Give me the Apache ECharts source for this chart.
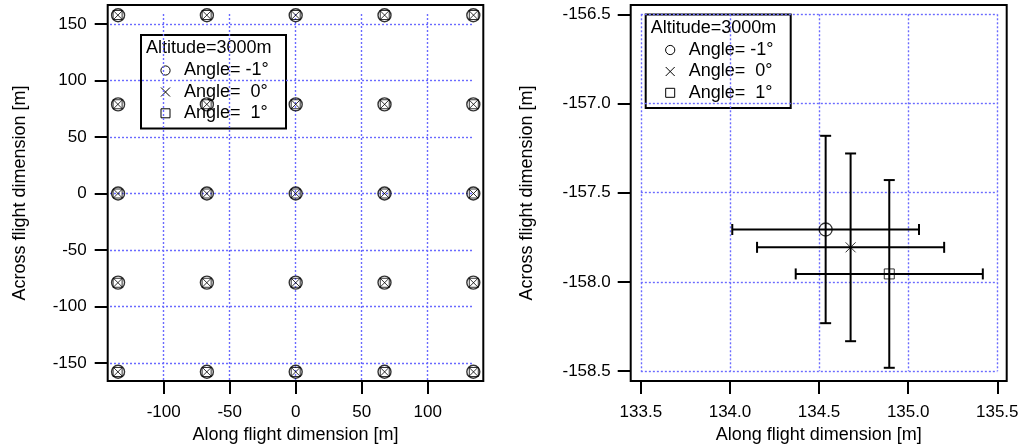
<!DOCTYPE html>
<html>
<head>
<meta charset="utf-8">
<script src="https://cdn.jsdelivr.net/npm/echarts@6/dist/echarts.min.js"></script>
<style>
  html, body { margin: 0; padding: 0; background: #fff; }
  #chart { width: 1034px; height: 448px; }
</style>
</head>
<body>
<div id="chart"></div>
<script>
// ---- data ----------------------------------------------------------------
const altitudeLabel = 'Altitude=3000m';
const angleNames = ['Angle= -1°', 'Angle=  0°', 'Angle=  1°'];

// footprint grid positions per pointing angle [m]
const alongAngleM1 = [-134.54, -67.27, 0, 67.27, 134.54];
const acrossAngleM1 = [-157.71, -78.85, 0, 78.85, 157.71];
const alongAngle0 = [-134.68, -67.34, 0, 67.34, 134.68];
const acrossAngle0 = [-157.81, -78.90, 0, 78.90, 157.81];
const alongAngleP1 = [-134.89, -67.45, 0, 67.45, 134.89];
const acrossAngleP1 = [-157.95, -78.98, 0, 78.98, 157.95];

// corner footprint in detail, with uncertainties [m]
const detailAlong = [134.537, 134.677, 134.894];
const detailAcross = [-157.706, -157.806, -157.955];
const detailAlongErr = [0.524, 0.525, 0.525];
const detailAcrossErr = [0.525, 0.526, 0.526];

// tick labels
const overviewAlongTicks = [-100, -50, 0, 50, 100];
const overviewAcrossTicks = [-150, -100, -50, 0, 50, 100, 150];
const detailAlongTicks = [133.5, 134.0, 134.5, 135.0, 135.5];
const detailAcrossTicks = [-158.5, -158.0, -157.5, -157.0, -156.5];

// ---- layout --------------------------------------------------------------
const FONT = '"Liberation Sans", Arial, Helvetica, sans-serif';
const GRID_BLUE = '#6a6aff';
const DOT = [2, 2];

const leftBox = { left: 107.7, top: 5, width: 375.6, height: 376, xr: [-142.4, 142.1], yr: [-165.9, 166.8] };
const rightBox = { left: 630.7, top: 5, width: 376, height: 376, xr: [133.443, 135.553], yr: [-158.555, -156.448] };

function px(box, v) { return box.left + (v - box.xr[0]) / (box.xr[1] - box.xr[0]) * box.width; }
function py(box, v) { return box.top + (box.yr[1] - v) / (box.yr[1] - box.yr[0]) * box.height; }

// dotted guide-line areas
const leftH = { left: 110, width: 363, top: py(leftBox, 150), height: py(leftBox, -150) - py(leftBox, 150) };
const leftV = { left: px(leftBox, -100), width: px(leftBox, 100) - px(leftBox, -100), top: 14, height: 367 };
const rightG = {
  left: px(rightBox, 133.5), width: px(rightBox, 135.5) - px(rightBox, 133.5),
  top: py(rightBox, -156.5), height: py(rightBox, -158.5) - py(rightBox, -156.5)
};

function zip(xs, ys) {
  const out = [];
  for (const y of ys) for (const x of xs) out.push([x, y]);
  return out;
}

const mainGrid = (b) => ({
  left: b.left, top: b.top, width: b.width, height: b.height,
  show: true, borderColor: '#000', borderWidth: 2, backgroundColor: 'transparent',
  containLabel: false, outerBoundsMode: 'none'
});
const plainGrid = (b) => ({
  left: b.left, top: b.top, width: b.width, height: b.height,
  show: false, containLabel: false, outerBoundsMode: 'none'
});

const hiddenAxis = (gi) => ({
  type: 'value', gridIndex: gi, min: 0, max: 1, show: false,
  axisLine: { show: false, onZero: false }, axisTick: { show: false }, axisLabel: { show: false },
  splitLine: { show: false }
});
const splitAxis = (gi, min, max, interval) => ({
  type: 'value', gridIndex: gi, min, max, interval,
  axisLine: { show: false, onZero: false }, axisTick: { show: false }, axisLabel: { show: false },
  splitLine: { show: true, showMinLine: true, showMaxLine: true, lineStyle: { color: GRID_BLUE, width: 1.4, type: DOT } }
});
const mainAxis = (gi, range, ticks, opts) => ({
  type: 'value', gridIndex: gi, min: range[0], max: range[1],
  axisLine: { show: false, onZero: false },
  axisTick: { show: true, inside: false, length: 13, customValues: ticks, lineStyle: { color: '#000', width: 2 } },
  axisLabel: {
    show: true, customValues: ticks, color: '#000', fontSize: 17, fontFamily: FONT,
    margin: opts.margin, formatter: opts.formatter
  },
  splitLine: { show: false },
  name: opts.name, nameLocation: 'middle', nameGap: opts.nameGap,
  nameTextStyle: { color: '#000', fontSize: 18, fontFamily: FONT }
});

const ALONG = 'Along flight dimension [m]';
const ACROSS = 'Across flight dimension [m]';

const symbolCircle = 'circle';
const symbolCross = 'path://M0 0L10 10M10 0L0 10';
const symbolSquare = 'rect';

function scatter(name, data, xi, symbol, size, bw) {
  return {
    type: 'scatter', name, data, xAxisIndex: xi, yAxisIndex: xi,
    symbol, symbolSize: size,
    itemStyle: { color: 'none', borderColor: '#000', borderWidth: bw },
    silent: true, z: 4, emphasis: { disabled: true }
  };
}

// error bars for the detail panel
const errData = detailAlong.map((x, i) => [x, detailAcross[i], detailAlongErr[i], detailAcrossErr[i]]);
const errorBars = {
  type: 'custom', xAxisIndex: 3, yAxisIndex: 3, data: errData, silent: true, z: 3,
  renderItem(params, api) {
    const x = api.value(0), y = api.value(1), ex = api.value(2), ey = api.value(3);
    const l = api.coord([x - ex, y]), r = api.coord([x + ex, y]);
    const t = api.coord([x, y + ey]), b = api.coord([x, y - ey]);
    const st = { stroke: '#000', lineWidth: 2 };
    const cap = 5.5;
    return {
      type: 'group',
      children: [
        { type: 'line', shape: { x1: l[0], y1: l[1], x2: r[0], y2: r[1] }, style: st },
        { type: 'line', shape: { x1: l[0], y1: l[1] - cap, x2: l[0], y2: l[1] + cap }, style: st },
        { type: 'line', shape: { x1: r[0], y1: r[1] - cap, x2: r[0], y2: r[1] + cap }, style: st },
        { type: 'line', shape: { x1: t[0], y1: t[1], x2: b[0], y2: b[1] }, style: st },
        { type: 'line', shape: { x1: t[0] - cap, y1: t[1], x2: t[0] + cap, y2: t[1] }, style: st },
        { type: 'line', shape: { x1: b[0] - cap, y1: b[1], x2: b[0] + cap, y2: b[1] }, style: st }
      ]
    };
  }
};

// boxed key with the altitude heading
function keyBox(x, y) {
  const txt = (tx, ty, text) => ({
    type: 'text', x: tx, y: ty,
    style: { text, fill: '#000', fontSize: 18, fontFamily: FONT, align: 'left', verticalAlign: 'middle' }
  });
  const line = (x1, y1, x2, y2) => ({ type: 'line', shape: { x1, y1, x2, y2 }, style: { stroke: '#000', lineWidth: 1 } });
  const sx = 24.5, rows = [35.5, 57, 78.3];
  return {
    type: 'group', x, y, z: 100,
    children: [
      { type: 'rect', shape: { x: 0, y: 0, width: 145, height: 93.5 }, style: { fill: '#fff', stroke: '#000', lineWidth: 2 } },
      txt(5, 13.5, altitudeLabel),
      { type: 'circle', shape: { cx: sx, cy: rows[0], r: 4.6 }, style: { fill: 'none', stroke: '#000', lineWidth: 1 } },
      line(sx - 4.5, rows[1] - 4.5, sx + 4.5, rows[1] + 4.5),
      line(sx + 4.5, rows[1] - 4.5, sx - 4.5, rows[1] + 4.5),
      { type: 'rect', shape: { x: sx - 4.5, y: rows[2] - 4.5, width: 9, height: 9 }, style: { fill: 'none', stroke: '#000', lineWidth: 1 } },
      txt(43, rows[0], angleNames[0]),
      txt(43, rows[1], angleNames[1]),
      txt(43, rows[2], angleNames[2])
    ]
  };
}

const option = {
  animation: false,
  backgroundColor: '#fff',
  grid: [mainGrid(leftBox), plainGrid(leftH), plainGrid(leftV), mainGrid(rightBox), plainGrid(rightG)],
  xAxis: [
    mainAxis(0, leftBox.xr, overviewAlongTicks, { margin: 23, name: ALONG, nameGap: 45.5 }),
    hiddenAxis(1),
    splitAxis(2, -100, 100, 50),
    mainAxis(3, rightBox.xr, detailAlongTicks, { margin: 23, name: ALONG, nameGap: 45.5, formatter: (v) => v.toFixed(1) }),
    splitAxis(4, 133.5, 135.5, 0.5)
  ],
  yAxis: [
    mainAxis(0, leftBox.yr, overviewAcrossTicks, { margin: 21, name: ACROSS, nameGap: 79 }),
    splitAxis(1, -150, 150, 50),
    hiddenAxis(2),
    mainAxis(3, rightBox.yr, detailAcrossTicks, { margin: 20, name: ACROSS, nameGap: 95, formatter: (v) => v.toFixed(1) }),
    splitAxis(4, -158.5, -156.5, 0.5)
  ],
  series: [
    scatter(angleNames[0], zip(alongAngleM1, acrossAngleM1), 0, symbolCircle, 13, 1.4),
    scatter(angleNames[1], zip(alongAngle0, acrossAngle0), 0, symbolCross, 9, 1),
    scatter(angleNames[2], zip(alongAngleP1, acrossAngleP1), 0, symbolSquare, 9, 1),
    errorBars,
    scatter(angleNames[0], [[detailAlong[0], detailAcross[0]]], 3, symbolCircle, 13, 1.3),
    scatter(angleNames[1], [[detailAlong[1], detailAcross[1]]], 3, symbolCross, 10, 1),
    scatter(angleNames[2], [[detailAlong[2], detailAcross[2]]], 3, symbolSquare, 10, 1)
  ],
  graphic: [keyBox(141, 35), keyBox(645.7, 14.5)]
};

const chart = echarts.init(document.getElementById('chart'), null, { renderer: 'canvas' });
chart.setOption(option);
</script>
</body>
</html>
